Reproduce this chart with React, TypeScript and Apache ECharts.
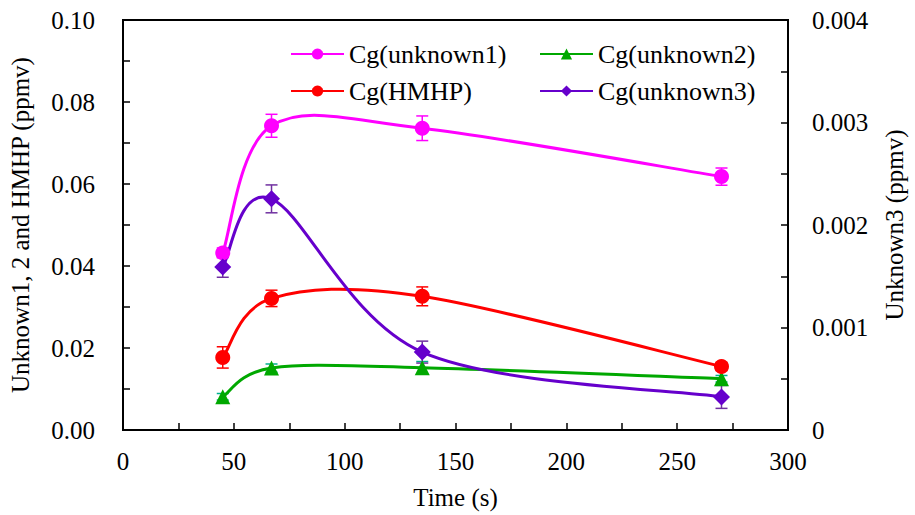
import React, { useEffect, useRef } from "react";
import * as echarts from "echarts";

const xs = [45, 67, 135, 270];
const unknown1 = [0.0432, 0.0742, 0.0736, 0.0618];
const unknown1Err = [0.0012, 0.0028, 0.003, 0.0021];
const hmhp = [0.0177, 0.0321, 0.0326, 0.0155];
const hmhpErr = [0.0026, 0.002, 0.0023, 0.001];
const unknown2 = [0.0081, 0.0151, 0.0152, 0.0125];
const unknown2Err = [0.0008, 0.001, 0.0015, 0.0008];
const unknown3 = [0.00159, 0.002255, 0.00076, 0.000323];
const unknown3Err = [0.0001, 0.000136, 0.000107, 0.000112];

const FONT = "Times New Roman, Liberation Serif, serif";

const pts = (ys: number[]) => xs.map((x, i) => [x, ys[i]]);
const errs = (ys: number[], es: number[]) => xs.map((x, i) => [x, ys[i] - es[i], ys[i] + es[i]]);

const errSeries = (name: string, ys: number[], es: number[], color: string, yAxisIndex = 0) => ({
  type: "custom",
  name,
  yAxisIndex,
  z: 1,
  data: errs(ys, es),
  encode: { x: 0, y: [1, 2] },
  renderItem: (params: any, api: any) => {
    const x = api.value(0);
    const p1 = api.coord([x, api.value(1)]);
    const p2 = api.coord([x, api.value(2)]);
    const w = 6;
    const style = { stroke: color, lineWidth: 1.5 };
    return {
      type: "group",
      children: [
        { type: "line", shape: { x1: p1[0], y1: p1[1], x2: p2[0], y2: p2[1] }, style },
        { type: "line", shape: { x1: p1[0] - w, y1: p1[1], x2: p1[0] + w, y2: p1[1] }, style },
        { type: "line", shape: { x1: p2[0] - w, y1: p2[1], x2: p2[0] + w, y2: p2[1] }, style },
      ],
    };
  },
});

// Excel-style smoothed curve (Catmull-Rom in screen space)
const curveSeries = (name: string, ys: number[], color: string, yAxisIndex = 0) => ({
  type: "custom",
  name,
  yAxisIndex,
  z: 2,
  data: pts(ys),
  encode: { x: 0, y: 1 },
  renderItem: (params: any, api: any) => {
    const i = params.dataIndex;
    const n = xs.length;
    if (i >= n - 1) return { type: "group", children: [] };
    const c = (k: number) => {
      const kk = Math.max(0, Math.min(n - 1, k));
      return api.coord([xs[kk], ys[kk]]);
    };
    const p0 = c(i - 1), p1 = c(i), p2 = c(i + 1), p3 = c(i + 2);
    return {
      type: "bezierCurve",
      shape: {
        x1: p1[0],
        y1: p1[1],
        x2: p2[0],
        y2: p2[1],
        cpx1: p1[0] + (p2[0] - p0[0]) / 6,
        cpy1: p1[1] + (p2[1] - p0[1]) / 6,
        cpx2: p2[0] - (p3[0] - p1[0]) / 6,
        cpy2: p2[1] - (p3[1] - p1[1]) / 6,
      },
      style: { stroke: color, lineWidth: 3, fill: "none" },
    };
  },
});

const markerSeries = (name: string, ys: number[], color: string, symbol: string, size: number, yAxisIndex = 0) => ({
  type: "line",
  name,
  yAxisIndex,
  z: 3,
  data: pts(ys),
  symbol,
  symbolSize: size,
  showSymbol: true,
  lineStyle: { color, width: 3, opacity: 0 },
  itemStyle: { color },
});

export default function App() {
  const ref = useRef<HTMLDivElement>(null);
  useEffect(() => {
    if (!ref.current) return;
    document.body.style.margin = "0";
    const chart = echarts.init(ref.current, null, { renderer: "svg" });
    const axisLine = { show: true, lineStyle: { color: "#000", width: 2 } };
    const labelStyle = { color: "#000", fontSize: 25, fontFamily: FONT };
    const tick = { show: true, inside: true, length: 7, lineStyle: { color: "#000", width: 1.5 } };
    const minor = { show: true, splitNumber: 2, length: 7, lineStyle: { color: "#000", width: 1.5 } };
    const legendBase = {
      orient: "vertical",
      top: 36,
      itemWidth: 53,
      itemHeight: 14,
      itemGap: 11,
      lineStyle: { opacity: 1 },
      textStyle: { ...labelStyle, fontSize: 26 },
    };
    chart.setOption({
      animation: false,
      backgroundColor: "#fff",
      textStyle: { fontFamily: FONT },
      grid: { left: 119, right: 122, top: 20, bottom: 77, show: true, borderColor: "#000", borderWidth: 2 },
      legend: [
        { ...legendBase, data: ["Cg(unknown1)", "Cg(HMHP)"], left: 285 },
        { ...legendBase, data: ["Cg(unknown2)", "Cg(unknown3)"], left: 534 },
      ],
      xAxis: {
        type: "value",
        min: 0,
        max: 300,
        interval: 50,
        name: "Time (s)",
        nameLocation: "middle",
        nameGap: 55,
        nameTextStyle: { ...labelStyle },
        axisLine,
        axisTick: tick,
        minorTick: minor,
        axisLabel: { ...labelStyle, margin: 19 },
        splitLine: { show: false },
      },
      yAxis: [
        {
          type: "value",
          min: 0,
          max: 0.1,
          interval: 0.02,
          position: "left",
          name: "Unknown1, 2 and HMHP (ppmv)",
          nameLocation: "middle",
          nameRotate: 90,
          nameGap: 90,
          nameTextStyle: { ...labelStyle },
          axisLine,
          axisTick: tick,
          minorTick: minor,
          axisLabel: { ...labelStyle, margin: 28, formatter: (v: number) => v.toFixed(2) },
          splitLine: { show: false },
        },
        {
          type: "value",
          min: 0,
          max: 0.004,
          interval: 0.001,
          position: "right",
          name: "Unknown3 (ppmv)",
          nameLocation: "middle",
          nameRotate: 90,
          nameGap: 94,
          nameTextStyle: { ...labelStyle },
          axisLine,
          axisTick: tick,
          minorTick: minor,
          axisLabel: { ...labelStyle, margin: 24, formatter: (v: number) => (v === 0 ? "0" : v.toFixed(3)) },
          splitLine: { show: false },
        },
      ],
      series: [
        errSeries("e1", unknown1, unknown1Err, "#FF00FF"),
        errSeries("e2", unknown2, unknown2Err, "#00B090"),
        errSeries("eh", hmhp, hmhpErr, "#FF0000"),
        errSeries("e3", unknown3, unknown3Err, "#7030A0", 1),
        curveSeries("c1", unknown1, "#FF00FF"),
        curveSeries("c2", unknown2, "#00A800"),
        curveSeries("ch", hmhp, "#FF0000"),
        curveSeries("c3", unknown3, "#6600CC", 1),
        markerSeries("Cg(unknown1)", unknown1, "#FF00FF", "circle", 15),
        markerSeries("Cg(unknown2)", unknown2, "#00A800", "triangle", 15),
        markerSeries("Cg(HMHP)", hmhp, "#FF0000", "circle", 15),
        markerSeries("Cg(unknown3)", unknown3, "#6600CC", "diamond", 17, 1),
      ],
    });
    return () => chart.dispose();
  }, []);
  return <div ref={ref} style={{ width: 915, height: 515 }} />;
}
